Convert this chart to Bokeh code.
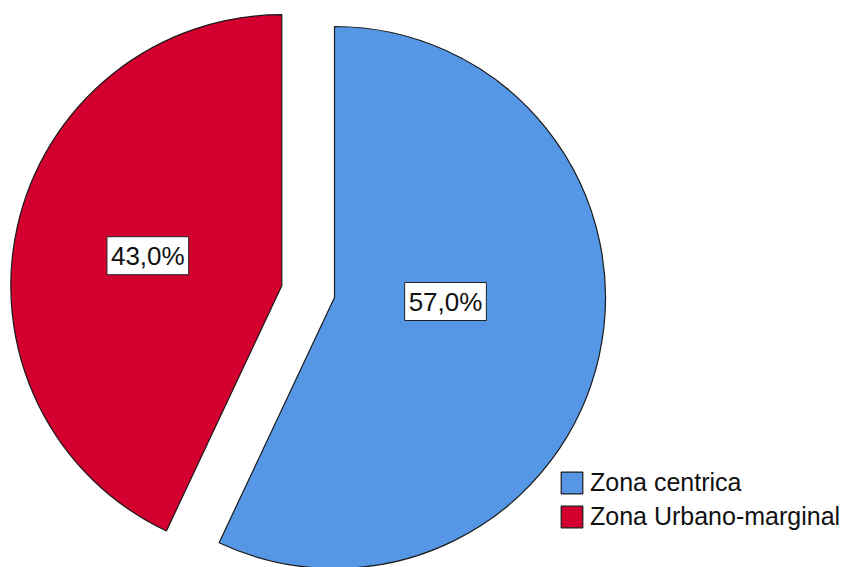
import math
from bokeh.plotting import figure
from bokeh.models import Range1d, ColumnDataSource, Legend, LegendItem
from bokeh.core.properties import value
from bokeh.embed import file_html
from bokeh.resources import INLINE

# ---- data ----
categories = ["Zona centrica", "Zona Urbano-marginal"]
percent = [57.0, 43.0]
colors = ["#5596e5", "#d3002f"]
labels = ["57,0%", "43,0%"]

# ---- layout ----
W, H = 843, 567
cx, cy = 334, H - 297      # pie centre (data units = pixels)
R = 271
explode = [0, 54]
label_pos = [(111, -4), (-134, 30)]   # label offset relative to slice centre

p = figure(width=W, height=H, output_backend="svg", toolbar_location=None,
           x_range=Range1d(0, W), y_range=Range1d(0, H),
           min_border=0, outline_line_color=None)
p.axis.visible = False
p.grid.visible = False

total = sum(percent)
start = math.pi / 2
renderers = []
tx, ty = [], []
for i, v in enumerate(percent):
    sweep = 2 * math.pi * v / total
    end = start - sweep
    mid = start - sweep / 2
    ox = cx + explode[i] * math.cos(mid)
    oy = cy + explode[i] * math.sin(mid)
    r = p.wedge(x=ox, y=oy, radius=R, start_angle=start, end_angle=end,
                direction="clock", fill_color=colors[i], line_color="#1a1a1a",
                line_width=1.2)
    renderers.append(r)
    tx.append(ox + label_pos[i][0])
    ty.append(oy + label_pos[i][1])
    start = end

src = ColumnDataSource(dict(x=tx, y=ty, t=labels))
p.text(x="x", y="y", text="t", source=src, text_align="center",
       text_baseline="middle", text_font=value("Liberation Sans"),
       text_font_size="26px", text_color="#111111",
       background_fill_color="white", border_line_color="#222222",
       border_line_width=1, padding=4)

legend = Legend(items=[LegendItem(label=categories[i], renderers=[renderers[i]])
                       for i in range(len(categories))],
                location=(558, 36), padding=0, margin=0, spacing=5,
                glyph_width=27, glyph_height=27, label_height=28,
                label_standoff=5, label_text_font="Liberation Sans",
                label_text_font_size="25px", label_text_color="#111111",
                border_line_alpha=0, background_fill_alpha=0)
p.add_layout(legend)

open("out.html", "w").write(file_html(p, INLINE))
